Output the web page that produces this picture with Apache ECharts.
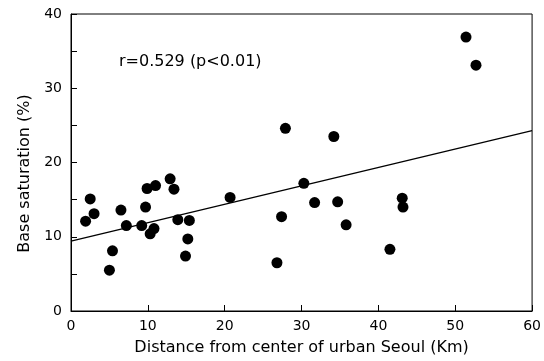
<!DOCTYPE html>
<html>
<head>
<meta charset="utf-8">
<script src="https://cdn.jsdelivr.net/npm/echarts@6/dist/echarts.min.js"></script>
<style>
  html, body { margin: 0; padding: 0; background: #fff; }
  #chart { width: 544px; height: 361px; }
</style>
</head>
<body>
<div id="chart"></div>
<script>
// distance from center of Seoul (km)
var distance = [1.9, 2.5, 3.0, 5.0, 5.4, 6.5, 7.2, 9.2, 9.7, 9.9, 10.3, 10.8, 11.0,
  12.9, 13.4, 13.9, 14.9, 15.2, 15.4, 20.7, 26.8, 27.4, 27.9, 30.3, 31.7, 34.2,
  34.7, 35.8, 41.5, 43.1, 43.2, 51.4, 52.7]
// base saturation (%)
var saturation = [12.1, 15.1, 13.1, 5.5, 8.1, 13.6, 11.5, 11.5, 14.0, 16.5, 10.4, 11.1, 16.9,
  17.8, 16.4, 12.3, 7.4, 9.7, 12.2, 15.3, 6.5, 12.7, 24.6, 17.2, 14.6, 23.5,
  14.7, 11.6, 8.3, 15.2, 14.0, 36.9, 33.1]
// regression line end points
var fitX = [0, 60]
var fitY = [9.4, 24.3]
var xTicks = [0, 10, 20, 30, 40, 50, 60]
var yTicks = [0, 10, 20, 30, 40]

var chart = echarts.init(document.getElementById('chart'))

var points = distance.map(function (d, i) { return [d, saturation[i]] })
var fitLine = fitX.map(function (d, i) { return [d, fitY[i]] })

var font = 'DejaVu Sans, Liberation Sans, sans-serif'

chart.setOption({
  animation: false,
  grid: {
    left: 71,
    right: 8,
    top: 14,
    bottom: 50,
    show: true,
    borderColor: '#000',
    borderWidth: 1
  },
  xAxis: {
    type: 'value',
    min: xTicks[0],
    max: xTicks[xTicks.length - 1],
    interval: 10,
    name: 'Distance from center of urban Seoul (Km)',
    nameLocation: 'middle',
    nameGap: 29,
    nameTextStyle: { fontFamily: font, fontSize: 16, color: '#000' },
    axisLine: { lineStyle: { color: '#000', width: 1 } },
    axisTick: { inside: true, length: 6, lineStyle: { color: '#000' } },
    axisLabel: { fontFamily: font, fontSize: 14, color: '#000', margin: 8 },
    splitLine: { show: false }
  },
  yAxis: {
    type: 'value',
    min: yTicks[0],
    max: yTicks[yTicks.length - 1],
    interval: 10,
    name: 'Base saturation (%)',
    nameLocation: 'middle',
    nameGap: 38,
    nameTextStyle: { fontFamily: font, fontSize: 16, color: '#000', padding: [0, 22, 0, 0] },
    axisLine: { show: true, lineStyle: { color: '#000', width: 1 } },
    axisTick: { inside: true, length: 6, lineStyle: { color: '#000' } },
    minorTick: { show: true, splitNumber: 2, length: 6, lineStyle: { color: '#000' } },
    axisLabel: { fontFamily: font, fontSize: 14, color: '#000', margin: 9 },
    splitLine: { show: false }
  },
  graphic: [{
    type: 'text',
    left: 119,
    top: 54,
    style: {
      text: 'r=0.529 (p<0.01)',
      font: '16px ' + font,
      fill: '#000'
    }
  }],
  series: [
    {
      type: 'line',
      data: fitLine,
      symbol: 'none',
      lineStyle: { color: '#000', width: 1.3 },
      z: 1
    },
    {
      type: 'scatter',
      data: points,
      symbol: 'circle',
      symbolSize: 11,
      itemStyle: { color: '#000', opacity: 1 },
      z: 2
    }
  ]
})
</script>
</body>
</html>
